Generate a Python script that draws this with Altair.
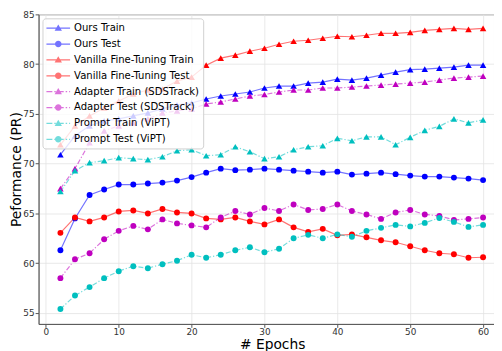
import altair as alt
import pandas as pd

epochs = list(range(2, 61, 2))

series_names = [
    "Ours Train", "Ours Test",
    "Vanilla Fine-Tuning Train", "Vanilla Fine-Tuning Test",
    "Adapter Train (SDSTrack)", "Adapter Test (SDSTrack)",
    "Prompt Train (ViPT)", "Prompt Test (ViPT)",
]
series_kind = ["train", "test", "train", "test", "train", "test", "train", "test"]
series_style = ["solid", "solid", "solid", "solid", "dashdot", "dashdot", "dashdot", "dashdot"]

ours_train = [70.9, 72.8, 73.8, 74.3, 74.5, 74.8, 75.1, 75.5, 75.9, 76.1,
              76.5, 76.8, 77.0, 77.2, 77.6, 77.8, 77.8, 78.1, 78.2, 78.5,
              78.4, 78.6, 78.9, 79.2, 79.45, 79.5, 79.6, 79.7, 79.9, 79.9]
ours_test = [61.3, 64.5, 66.85, 67.4, 67.9, 67.9, 68.0, 68.1, 68.3, 68.65,
             69.1, 69.5, 69.35, 69.4, 69.5, 69.4, 69.3, 69.2, 69.1, 69.2,
             68.9, 69.0, 69.1, 68.95, 68.8, 68.7, 68.7, 68.6, 68.5, 68.35]
vanilla_train = [71.9, 73.8, 74.8, 75.6, 76.3, 77.0, 77.4, 77.5, 78.3, 78.7,
                 79.9, 80.6, 80.9, 81.3, 81.6, 82.0, 82.3, 82.4, 82.6, 82.8,
                 82.75, 82.9, 83.1, 83.1, 83.2, 83.4, 83.5, 83.6, 83.5, 83.6]
vanilla_test = [63.05, 64.6, 64.2, 64.6, 65.2, 65.3, 65.0, 65.45, 65.1, 65.0,
                64.5, 64.4, 64.6, 64.2, 63.9, 64.4, 63.6, 63.15, 63.45, 62.8,
                62.9, 62.6, 62.3, 62.1, 61.7, 61.3, 61.0, 60.9, 60.55, 60.6]
adapter_train = [67.5, 69.5, 72.1, 73.3, 73.8, 74.1, 74.5, 75.1, 75.3, 75.5,
                 76.0, 76.2, 76.5, 76.8, 76.95, 77.2, 77.4, 77.4, 77.6, 77.6,
                 77.7, 77.8, 77.9, 78.0, 78.1, 78.2, 78.4, 78.6, 78.7, 78.8]
adapter_test = [58.5, 60.4, 61.0, 62.4, 63.25, 63.75, 63.4, 64.4, 64.0, 63.8,
                63.6, 64.6, 65.25, 64.9, 65.55, 65.25, 65.9, 65.35, 65.45, 65.9,
                65.25, 64.9, 64.45, 65.1, 65.35, 64.9, 64.75, 64.35, 64.45, 64.6]
prompt_train = [67.2, 69.3, 70.1, 70.3, 70.6, 70.5, 70.4, 70.7, 71.3, 71.4,
                70.8, 70.9, 71.7, 71.2, 70.5, 70.7, 71.4, 71.7, 71.8, 72.55,
                72.3, 72.7, 72.7, 71.9, 72.65, 73.35, 73.75, 74.5, 74.1, 74.4]
prompt_test = [55.4, 56.75, 57.6, 58.5, 59.2, 59.7, 59.5, 59.9, 60.25, 60.85,
               60.55, 60.85, 61.3, 61.6, 61.1, 61.45, 62.5, 62.85, 62.5, 62.9,
               62.65, 63.25, 63.55, 63.85, 63.7, 64.05, 64.55, 64.15, 63.65, 63.85]

all_values = [ours_train, ours_test, vanilla_train, vanilla_test,
              adapter_train, adapter_test, prompt_train, prompt_test]

colors = ["#0000ff", "#0000ff", "#ff0000", "#ff0000",
          "#bf00bf", "#bf00bf", "#00bfbf", "#00bfbf"]

# legend glyphs (line segment + marker) as custom symbol paths
line_solid = "M-1,-0.11H3V0.11H-1Z"
line_dd = ("M-1,-0.11H0V0.11H-1Z M0.33,-0.11H0.58V0.11H0.33Z "
           "M0.92,-0.11H1.92V0.11H0.92Z M2.25,-0.11H2.5V0.11H2.25Z "
           "M2.83,-0.11H3V0.11H2.83Z")
tri = " M1,-0.62L1.62,0.45H0.38Z"
circ = " M1.56,0A0.56,0.56,0,1,1,0.44,0A0.56,0.56,0,1,1,1.56,0Z"
legend_paths = [line_solid + tri, line_solid + circ,
                line_solid + tri, line_solid + circ,
                line_dd + tri, line_dd + circ,
                line_dd + tri, line_dd + circ]

rows = []
for name, kind, style, vals in zip(series_names, series_kind, series_style, all_values):
    for e, v in zip(epochs, vals):
        rows.append({"epoch": e, "value": v, "series": name, "kind": kind, "style": style})
df = pd.DataFrame(rows)

x_enc = alt.X("epoch:Q",
              scale=alt.Scale(domain=[-1, 61.5], nice=False, zero=False),
              axis=alt.Axis(values=[0, 10, 20, 30, 40, 50, 60], title="# Epochs",
                            titleFontSize=14, titleFontWeight="normal",
                            titlePadding=1, labelPadding=0, titleX=237))
y_enc = alt.Y("value:Q",
              scale=alt.Scale(domain=[53.9, 85], nice=False, zero=False),
              axis=alt.Axis(values=[55, 60, 65, 70, 75, 80, 85],
                            title="Peformance (PR)", titleFontSize=14,
                            titleFontWeight="normal", titlePadding=-1,
                            labelPadding=1))

color_scale = alt.Scale(domain=series_names, range=colors)
color_plain = alt.Color("series:N", scale=color_scale)

base = alt.Chart(df).encode(x=x_enc, y=y_enc)

solid_lines = base.transform_filter(alt.datum.style == "solid").mark_line(
    strokeWidth=1.2, opacity=0.55
).encode(color=color_plain)

dd_lines = base.transform_filter(alt.datum.style == "dashdot").mark_line(
    strokeWidth=1.2, opacity=0.55, strokeDash=[5, 2, 1.2, 2]
).encode(color=color_plain)

tri_pts = base.transform_filter(alt.datum.kind == "train").mark_point(
    shape="triangle-up", filled=True, size=44, opacity=1
).encode(color=color_plain)

circ_pts = base.transform_filter(alt.datum.kind == "test").mark_point(
    shape="circle", filled=True, size=36, opacity=1
).encode(color=color_plain)

leg_props = dict(
    title=None, orient="top-left", offset=4, padding=4,
    fillColor="rgba(255,255,255,0.8)", strokeColor="#d0d0d0", cornerRadius=3,
    labelFont="DejaVu Sans", labelFontSize=10.2, labelColor="#000000",
    symbolSize=144, symbolStrokeWidth=0, labelOffset=16, rowPadding=4.1,
    labelLimit=300, symbolOpacity=1,
)

legend_layer = base.mark_point(filled=True, opacity=0).encode(
    color=alt.Color("series:N", scale=color_scale, legend=alt.Legend(**leg_props)),
    shape=alt.Shape("series:N",
                    scale=alt.Scale(domain=series_names, range=legend_paths),
                    legend=alt.Legend(**leg_props)),
)

chart = alt.layer(legend_layer, solid_lines, dd_lines, tri_pts, circ_pts).properties(
    width=462, height=314,
    autosize=alt.AutoSizeParams(type="none"),
    padding={"left": 31, "top": 4, "right": 0, "bottom": 25},
).configure_view(
    stroke="#999999", strokeWidth=1
).configure_axis(
    labelFont="DejaVu Sans", titleFont="DejaVu Sans", labelFontSize=9,
    labelColor="#333333", titleColor="#000000",
    gridColor="#e3e3e3", gridWidth=0.8,
    domainColor="#555555", tickColor="#555555", tickSize=3.5,
)

chart.save("out.html", embed_options={"renderer": "svg", "actions": False})
